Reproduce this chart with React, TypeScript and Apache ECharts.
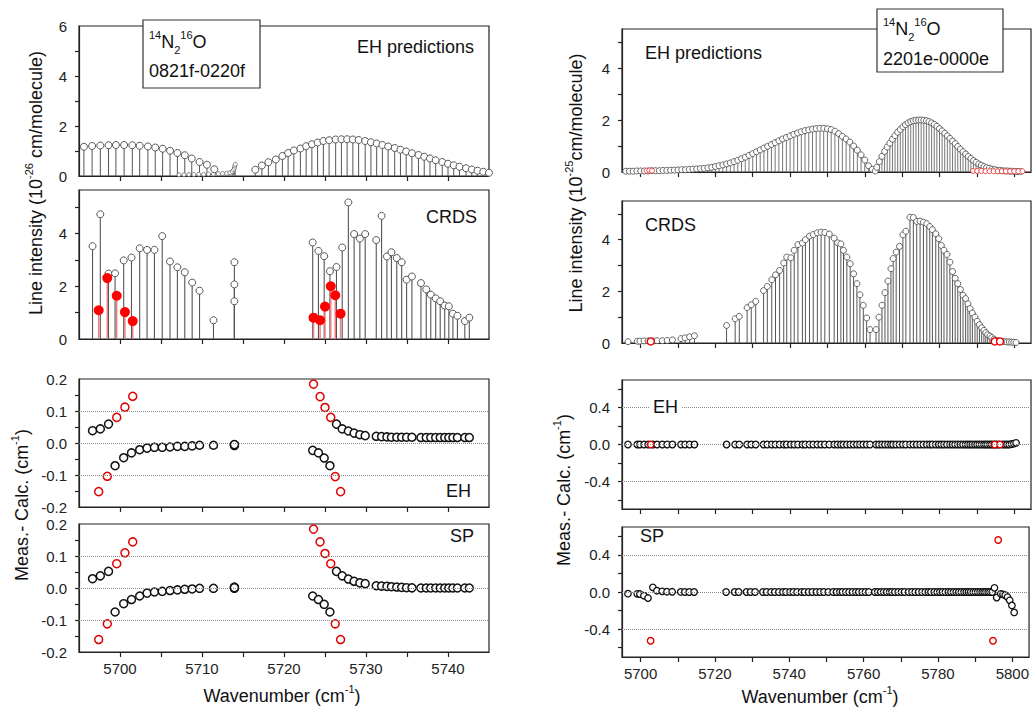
import React, { useEffect, useRef } from 'react';
import * as echarts from 'echarts';

const FONT = '"Liberation Sans", Arial, Helvetica, sans-serif';

// ---------------- LEFT: 0821f-0220f ----------------
const leftPredWn = [5695.6, 5696.6, 5697.6, 5698.6, 5699.5, 5700.5, 5701.5, 5702.4, 5703.4, 5704.3, 5705.2, 5706.1, 5707.0, 5707.9, 5708.75, 5709.7, 5710.6, 5711.5,
  5716.5, 5717.3, 5718.1, 5719.0, 5719.8, 5720.5, 5721.2, 5722.0, 5722.7, 5723.4, 5724.1, 5724.8, 5725.5, 5726.3, 5727.0, 5727.7, 5728.4, 5729.1, 5729.9, 5730.6,
  5731.3, 5732.0, 5732.7, 5733.5, 5734.2, 5734.9, 5735.6, 5736.4, 5737.1, 5737.8, 5738.5, 5739.3, 5740.0, 5740.7, 5741.4, 5742.2, 5742.9, 5743.6, 5744.3, 5745.0];
const leftPredInt = [1.17, 1.20, 1.22, 1.23, 1.24, 1.24, 1.23, 1.21, 1.18, 1.14, 1.09, 1.01, 0.92, 0.83, 0.70, 0.56, 0.45, 0.27,
  0.25, 0.42, 0.55, 0.66, 0.80, 0.92, 1.02, 1.10, 1.19, 1.27, 1.34, 1.40, 1.43, 1.46, 1.47, 1.47, 1.46, 1.44, 1.40, 1.35,
  1.30, 1.24, 1.18, 1.12, 1.05, 0.98, 0.91, 0.84, 0.77, 0.70, 0.63, 0.56, 0.49, 0.43, 0.37, 0.31, 0.26, 0.21, 0.17, 0.13];
const leftLowWn = [5707.2, 5707.8, 5708.4, 5709.0, 5709.6, 5710.2, 5710.8, 5711.4, 5712.0, 5712.5, 5713.0, 5713.4, 5713.7, 5713.85, 5713.95, 5714.0, 5714.05];
const leftLowInt = [0.05, 0.05, 0.06, 0.06, 0.07, 0.07, 0.08, 0.08, 0.09, 0.10, 0.11, 0.13, 0.18, 0.25, 0.32, 0.40, 0.47];

const leftObsWn = [5696.65, 5697.6, 5698.6, 5699.4, 5700.45, 5701.4, 5702.4, 5703.3, 5704.2, 5705.15, 5706.1, 5707.0, 5707.9, 5708.8, 5709.7, 5711.4, 5713.95, 5713.95, 5713.95,
  5723.5, 5724.2, 5724.9, 5725.6, 5726.4, 5727.1, 5727.85, 5728.55, 5729.25, 5729.9, 5731.25, 5731.9, 5732.55, 5733.1, 5733.75, 5734.35, 5734.95, 5735.6, 5736.7, 5737.35,
  5737.9, 5738.5, 5739.05, 5739.6, 5740.1, 5740.6, 5741.15, 5742.05, 5742.6];
const leftObsInt = [3.52, 4.73, 2.48, 2.49, 2.98, 3.09, 3.44, 3.38, 3.38, 3.90, 2.94, 2.72, 2.53, 2.14, 1.83, 0.71, 2.91, 2.07, 1.43,
  3.66, 3.34, 3.14, 2.57, 2.73, 3.47, 5.18, 3.98, 3.81, 3.98, 3.75, 4.67, 3.13, 3.29, 3.07, 2.91, 2.25, 2.37, 2.12, 1.88,
  1.68, 1.54, 1.43, 1.27, 1.24, 0.96, 0.88, 0.68, 0.81];
const leftObsEh = [0.0385, 0.044, 0.059, -0.071, -0.046, -0.031, -0.021, -0.016, -0.0135, -0.0135, -0.0125, -0.0105, -0.0105, -0.009, -0.007, -0.007, -0.006, -0.008, -0.005,
  -0.023, -0.031, -0.047, -0.071, 0.059, 0.044, 0.0375, 0.031, 0.026, 0.023, 0.021, 0.020, 0.019, 0.018, 0.018, 0.018, 0.018, 0.018, 0.017, 0.017,
  0.017, 0.017, 0.017, 0.017, 0.017, 0.017, 0.017, 0.017, 0.017];
const leftObsSp = [0.029, 0.038, 0.052, -0.075, -0.049, -0.036, -0.025, -0.016, -0.0125, -0.0105, -0.008, -0.006, -0.004, -0.003, -0.001, -0.001, 0.003, -0.001, 0.001,
  -0.025, -0.036, -0.051, -0.075, 0.052, 0.038, 0.028, 0.021, 0.016, 0.0136, 0.007, 0.006, 0.005, 0.004, 0.003, 0.002, 0.001, 0.0005, 0, 0,
  0, 0, 0, 0, 0, 0, 0, 0, 0];

const leftRedWn = [5697.4, 5698.45, 5699.6, 5700.6, 5701.55, 5723.6, 5724.4, 5725.0, 5725.7, 5726.25, 5726.9];
const leftRedInt = [1.09, 2.31, 1.64, 1.02, 0.68, 0.81, 0.71, 1.23, 2.00, 1.66, 0.96];
const leftRedEh = [-0.152, -0.104, 0.080, 0.112, 0.146, 0.184, 0.145, 0.111, 0.080, -0.105, -0.152];
const leftRedSp = [-0.161, -0.112, 0.076, 0.110, 0.144, 0.184, 0.144, 0.108, 0.076, -0.112, -0.161];

// ---------------- RIGHT: 2201e-0000e ----------------
const rightPredWn = [5696, 5697, 5698, 5699, 5700, 5701, 5702, 5703, 5704, 5705, 5706, 5707, 5708, 5709, 5710, 5711, 5712, 5713, 5714, 5715,
  5716, 5717, 5718, 5719, 5720, 5721, 5722, 5723, 5724, 5725, 5726, 5727, 5728, 5729, 5730, 5731, 5732, 5733, 5734, 5735,
  5736, 5737, 5738, 5739, 5740, 5741, 5742, 5743, 5744, 5745, 5746, 5747, 5748, 5749, 5750, 5751, 5752, 5753, 5754, 5755,
  5756, 5757, 5758, 5759, 5760, 5761, 5762, 5762.8,
  5763.2, 5763.9, 5764.6, 5765.3, 5766.0, 5766.7, 5767.4, 5768.1, 5768.8, 5769.5, 5770.2, 5770.9, 5771.6, 5772.3, 5773.0, 5773.7, 5774.4, 5775.1, 5775.8, 5776.5,
  5777.2, 5777.9, 5778.6, 5779.3, 5780.0, 5780.7, 5781.4, 5782.1, 5782.8, 5783.5, 5784.2, 5784.9, 5785.6, 5786.3, 5787.0, 5787.7, 5788.4, 5789.1, 5789.8, 5790.5,
  5791.2, 5791.9, 5792.6, 5793.3, 5794.0, 5794.7, 5795.4, 5796.1, 5796.8, 5797.5, 5798.2, 5798.9, 5799.6, 5800.3, 5801.0, 5801.7];
const rightPredInt = [0.03, 0.03, 0.03, 0.04, 0.04, 0.04, 0.04, 0.05, 0.05, 0.05, 0.06, 0.06, 0.07, 0.07, 0.08, 0.09, 0.09, 0.10, 0.11, 0.12,
  0.13, 0.14, 0.16, 0.18, 0.21, 0.24, 0.27, 0.31, 0.35, 0.40, 0.45, 0.51, 0.57, 0.64, 0.71, 0.78, 0.85, 0.92, 0.99, 1.06,
  1.13, 1.20, 1.27, 1.33, 1.39, 1.45, 1.50, 1.55, 1.59, 1.62, 1.65, 1.67, 1.68, 1.68, 1.66, 1.63, 1.57, 1.48, 1.37, 1.27,
  1.15, 1.00, 0.84, 0.66, 0.46, 0.24, 0.10, 0.04,
  0.18, 0.40, 0.60, 0.79, 0.96, 1.11, 1.26, 1.40, 1.53, 1.64, 1.74, 1.82, 1.89, 1.94, 1.97, 1.99, 2.00, 2.00, 1.99, 1.97,
  1.94, 1.89, 1.83, 1.76, 1.67, 1.58, 1.49, 1.39, 1.29, 1.19, 1.09, 0.98, 0.88, 0.78, 0.69, 0.60, 0.52, 0.44, 0.37, 0.31,
  0.26, 0.21, 0.17, 0.14, 0.11, 0.09, 0.07, 0.06, 0.05, 0.04, 0.04, 0.03, 0.03, 0.02, 0.02, 0.02];
const rightPredRedWn = [5701.6, 5702.3, 5703.0, 5789.0, 5790.1, 5791.2, 5792.3, 5793.4, 5794.5, 5795.6, 5796.7, 5797.8, 5798.9, 5800.0, 5801.1, 5802.2];
const rightPredRedInt = [0.05, 0.06, 0.05, 0.04, 0.04, 0.04, 0.03, 0.03, 0.03, 0.03, 0.03, 0.03, 0.03, 0.03, 0.03, 0.03];

const rightObsWn = [5696.6, 5699.1, 5699.8, 5700.9, 5702.0, 5703.3, 5704.4, 5705.8, 5707.1, 5708.5, 5710.8, 5711.9, 5713.1, 5714.4,
  5723.0, 5725.3, 5726.4, 5728.5, 5729.6, 5730.8, 5732.9, 5733.9, 5735.1, 5736.1, 5737.2, 5738.3, 5739.1, 5740.2, 5741.1, 5742.1, 5743.3, 5744.1, 5745.2, 5746.2,
  5747.3, 5748.3, 5749.3, 5750.5, 5751.8, 5752.7, 5753.6, 5754.3, 5755.2, 5756.1, 5757.0, 5757.9, 5758.7, 5759.6, 5760.5, 5761.4,
  5763.0, 5763.8, 5764.6, 5765.4, 5766.2, 5767.0, 5767.6, 5768.4, 5769.3, 5770.2, 5771.0, 5772.1, 5773.0, 5773.9, 5774.8, 5775.7, 5776.6, 5777.4, 5778.1, 5779.0,
  5779.8, 5780.5, 5781.2, 5782.0, 5782.8, 5783.5, 5784.2, 5784.9, 5785.6, 5786.3, 5787.0, 5787.6, 5788.2, 5788.8, 5789.5, 5790.1, 5790.7, 5791.3, 5791.9, 5792.4,
  5792.9, 5793.5, 5794.0, 5794.6, 5795.2, 5795.8, 5796.9, 5797.5, 5798.1, 5798.7, 5799.3, 5799.9, 5800.5];
const rightObsInt = [0.05, 0.07, 0.07, 0.08, 0.08, 0.08, 0.09, 0.09, 0.10, 0.12, 0.17, 0.20, 0.24, 0.28,
  0.68, 0.94, 1.03, 1.37, 1.48, 1.61, 2.03, 2.19, 2.45, 2.64, 2.81, 3.10, 3.33, 3.30, 3.59, 3.81, 3.87, 4.00, 4.14, 4.20,
  4.27, 4.29, 4.28, 4.22, 4.06, 3.88, 3.84, 3.59, 3.33, 3.07, 2.68, 2.30, 1.87, 1.46, 0.97, 0.52,
  0.52, 1.00, 1.46, 1.95, 2.40, 2.88, 3.27, 3.52, 3.74, 4.19, 4.33, 4.87, 4.86, 4.71, 4.72, 4.68, 4.62, 4.51, 4.39, 4.23,
  4.04, 3.78, 3.59, 3.43, 3.13, 2.77, 2.51, 2.30, 2.07, 1.85, 1.72, 1.52, 1.33, 1.16, 1.00, 0.84, 0.71, 0.59, 0.49, 0.40,
  0.32, 0.27, 0.21, 0.15, 0.10, 0.08, 0.06, 0.05, 0.04, 0.04, 0.03, 0.03, 0.02];
const rightObsEh = [0, 0, 0, 0, 0, 0, 0, 0, 0, 0, 0, 0, 0, 0,
  0, 0, 0, 0, 0, 0, 0, 0, 0, 0, 0, 0, 0, 0, 0, 0, 0, 0, 0, 0,
  0, 0, 0, 0, 0, 0, 0, 0, 0, 0, 0, 0, 0, 0, 0, 0,
  0, 0, 0, 0, 0, 0, 0, 0, 0, 0, 0, 0, 0, 0, 0, 0, 0, 0, 0, 0,
  0, 0, 0, 0, 0, 0, 0, 0, 0, 0, 0, 0, 0, 0, 0, 0, 0, 0, 0, 0,
  0, 0, 0, 0, 0, 0, 0, 0, 0, 0, 0.005, 0.01, 0.018];
const rightObsSp = [-0.018, -0.020, -0.022, -0.040, -0.065, 0.050, 0.014, 0.007, 0.003, 0.002, 0.001, 0, 0, 0,
  0, 0, 0, 0, 0, 0, 0, 0, 0, 0, 0, 0, 0, 0, 0, 0, 0, 0, 0, 0,
  0, 0, 0, 0, 0, 0, 0, 0, 0, 0, 0, 0, 0, 0, 0, 0,
  0, 0, 0, 0, 0, 0, 0, 0, 0, 0, 0, 0, 0, 0, 0, 0, 0, 0, 0, 0,
  0, 0, 0, 0, 0, 0, 0, 0, 0, 0, 0, 0, 0, 0, 0, 0, 0, 0, 0, 0,
  0, 0, 0, 0, 0.045, -0.060, -0.020, -0.025, -0.035, -0.055, -0.090, -0.145, -0.220];
const rightRedWn = [5702.7, 5794.8, 5796.2];
const rightRedInt = [0.06, 0.06, 0.06];
const rightRedEh = [0, 0, 0];
const rightRedSp = [-0.525, -0.525, 0.56];

// ticks
const leftXTicks = [5700, 5705, 5710, 5715, 5720, 5725, 5730, 5735, 5740];
const leftXLabels = [5700, 5710, 5720, 5730, 5740];
const rightXTicks = [5700, 5710, 5720, 5730, 5740, 5750, 5760, 5770, 5780, 5790, 5800];
const rightXLabels = [5700, 5720, 5740, 5760, 5780, 5800];

const pairs = (xs: number[], ys: number[]) => xs.map((x, i) => [x, ys[i]]);

const GRIDS = [
  { left: 79, top: 26, width: 410, height: 150 },
  { left: 79, top: 190, width: 410, height: 149 },
  { left: 79, top: 379, width: 410, height: 128 },
  { left: 79, top: 524, width: 410, height: 128 },
  { left: 622, top: 29, width: 409, height: 143 },
  { left: 622, top: 201, width: 409, height: 142 },
  { left: 622, top: 380, width: 409, height: 129 },
  { left: 622, top: 527, width: 409, height: 130 },
];

const AX = '#222';

function xAx(gi: number, right: boolean, bottom: boolean) {
  return {
    type: 'value', gridIndex: gi, min: 5695, max: right ? 5804.5 : 5745,
    axisLine: { show: true, onZero: false, lineStyle: { color: AX, width: 1.2 } },
    axisTick: { show: true, inside: false, length: 5, lineStyle: { color: AX, width: 1.2 }, customValues: right ? rightXTicks : leftXTicks },
    axisLabel: { show: bottom, customValues: right ? rightXLabels : leftXLabels, fontSize: 15, color: AX, fontFamily: FONT, margin: 9,
      formatter: (v: number) => String(Math.round(v)) },
    splitLine: { show: false },
  };
}

function yAx(gi: number, min: number, max: number, ticks: number[], labels: number[], dec: number) {
  return {
    type: 'value', gridIndex: gi, min, max,
    axisLine: { show: true, onZero: false, lineStyle: { color: AX, width: 1.2 } },
    axisTick: { show: true, length: 4, lineStyle: { color: AX, width: 1.2 }, customValues: ticks },
    axisLabel: { show: true, customValues: labels, fontSize: 15, color: AX, fontFamily: FONT, margin: 12,
      formatter: (v: number) => (dec > 0 ? v.toFixed(dec) : String(Math.round(v))) },
    splitLine: { show: false },
  };
}

function stems(i: number, data: number[][], color: string, width = 1) {
  return {
    type: 'custom', xAxisIndex: i, yAxisIndex: i, data, silent: true, z: 2,
    encode: { x: 0, y: 1 },
    renderItem: (_p: any, api: any) => {
      const x = api.value(0);
      const y = api.value(1);
      const a = api.coord([x, 0]);
      const b = api.coord([x, y]);
      return { type: 'line', shape: { x1: a[0], y1: a[1], x2: b[0], y2: b[1] }, style: { stroke: color, lineWidth: width } };
    },
  };
}

function dots(i: number, data: number[][], size: number, fill: string, border: string, bw: number, extra: any = {}) {
  return {
    type: 'scatter', xAxisIndex: i, yAxisIndex: i, data, symbol: 'circle', symbolSize: size, silent: true, z: 3,
    itemStyle: { color: fill, borderColor: border, borderWidth: bw, opacity: 1 },
    ...extra,
  };
}

function guide(vals: number[]) {
  return {
    markLine: {
      silent: true, symbol: 'none', label: { show: false }, animation: false,
      lineStyle: { type: 'dotted', color: '#888', width: 1 },
      data: vals.map((v) => ({ yAxis: v })),
    },
  };
}

function rich(fs: number) {
  const s = Math.round(fs * 0.6);
  return {
    n: { fontSize: fs, fontFamily: FONT, fill: '#111', color: '#111', lineHeight: fs + 8 },
    sup: { fontSize: s, fontFamily: FONT, fill: '#111', color: '#111', lineHeight: s + 1, verticalAlign: 'top' },
    sub: { fontSize: s, fontFamily: FONT, fill: '#111', color: '#111', lineHeight: s + 1, verticalAlign: 'bottom' },
  };
}

function label(x: number, y: number, text: string, fs: number, align = 'left', rot = 0, extra: any = {}) {
  return {
    type: 'text', x, y, z: 100, rotation: rot,
    style: {
      text, rich: rich(fs), fontSize: fs, fontFamily: FONT, fill: '#111',
      align, textAlign: align, verticalAlign: 'middle', textVerticalAlign: 'middle', ...extra,
    },
  };
}

export default function App() {
  const ref = useRef<HTMLDivElement>(null);
  useEffect(() => {
    if (!ref.current) return;
    const chart = echarts.init(ref.current, undefined, { renderer: 'svg' });
    const GR = '#555';
    const option: any = {
      animation: false,
      backgroundColor: '#fff',
      grid: GRIDS.map((g) => ({ ...g, show: true, borderColor: AX, borderWidth: 1.2, backgroundColor: 'transparent' })),
      xAxis: [
        xAx(0, false, false), xAx(1, false, false), xAx(2, false, false), xAx(3, false, true),
        xAx(4, true, false), xAx(5, true, false), xAx(6, true, false), xAx(7, true, true),
      ],
      yAxis: [
        yAx(0, 0, 6, [1, 2, 3, 4, 5], [0, 2, 4, 6], 0),
        yAx(1, 0, 5.65, [1, 2, 3, 4, 5], [0, 2, 4], 0),
        yAx(2, -0.2, 0.2, [-0.15, -0.1, -0.05, 0, 0.05, 0.1, 0.15], [-0.2, -0.1, 0, 0.1, 0.2], 1),
        yAx(3, -0.2, 0.2, [-0.15, -0.1, -0.05, 0, 0.05, 0.1, 0.15], [-0.2, -0.1, 0, 0.1, 0.2], 1),
        yAx(4, 0, 5.5, [1, 2, 3, 4, 5], [0, 2, 4], 0),
        yAx(5, 0, 5.5, [1, 2, 3, 4, 5], [0, 2, 4], 0),
        yAx(6, -0.7, 0.7, [-0.6, -0.4, -0.2, 0, 0.2, 0.4, 0.6], [-0.4, 0, 0.4], 1),
        yAx(7, -0.7, 0.7, [-0.6, -0.4, -0.2, 0, 0.2, 0.4, 0.6], [-0.4, 0, 0.4], 1),
      ],
      series: [
        // left top: EH predictions
        stems(0, pairs(leftLowWn, leftLowInt), '#777', 1),
        stems(0, pairs(leftPredWn, leftPredInt), GR, 1),
        dots(0, pairs(leftLowWn, leftLowInt), 4, '#fff', '#666', 0.8),
        dots(0, pairs(leftPredWn, leftPredInt), 7, '#fff', '#555', 1),
        // left CRDS
        stems(1, pairs(leftObsWn, leftObsInt), GR, 1.1),
        stems(1, pairs(leftRedWn, leftRedInt), '#f08080', 1.5),
        dots(1, pairs(leftObsWn, leftObsInt), 7, '#fff', '#555', 1),
        dots(1, pairs(leftRedWn, leftRedInt), 10, '#ff0000', '#ff0000', 0),
        // left EH residuals
        dots(2, pairs(leftObsWn, leftObsEh), 8, '#fff', '#111', 1.5, guide([-0.1, 0, 0.1])),
        dots(2, pairs(leftRedWn, leftRedEh), 8, '#fff', '#e00000', 1.5),
        // left SP residuals
        dots(3, pairs(leftObsWn, leftObsSp), 8, '#fff', '#111', 1.5, guide([-0.1, 0, 0.1])),
        dots(3, pairs(leftRedWn, leftRedSp), 8, '#fff', '#e00000', 1.5),
        // right top: EH predictions
        stems(4, pairs(rightPredWn, rightPredInt), '#666', 0.9),
        stems(4, pairs(rightPredRedWn, rightPredRedInt), '#f08080', 1),
        dots(4, pairs(rightPredWn, rightPredInt), 6, '#fff', '#555', 0.9),
        dots(4, pairs(rightPredRedWn, rightPredRedInt), 5, '#fff', '#ee3333', 0.9),
        // right CRDS
        stems(5, pairs(rightObsWn, rightObsInt), '#555', 1),
        dots(5, pairs(rightObsWn, rightObsInt), 6, '#fff', '#555', 0.9),
        dots(5, pairs(rightRedWn, rightRedInt), 7, '#fff', '#ee0000', 1.4),
        // right EH residuals
        dots(6, pairs(rightObsWn, rightObsEh), 6.5, '#fff', '#111', 1.3, guide([-0.4, 0, 0.4])),
        dots(6, pairs(rightRedWn, rightRedEh), 6.5, '#fff', '#e00000', 1.4),
        // right SP residuals
        dots(7, pairs(rightObsWn, rightObsSp), 6.5, '#fff', '#111', 1.3, guide([-0.4, 0, 0.4])),
        dots(7, pairs(rightRedWn, rightRedSp), 6.5, '#fff', '#e00000', 1.4),
      ],
      graphic: [
        // inset boxes
        { type: 'rect', z: 99, shape: { x: 143, y: 20, width: 117, height: 68 }, style: { fill: '#fff', stroke: '#333', lineWidth: 1.2 } },
        label(149, 42, '{sup|14}{n|N}{sub|2}{sup|16}{n|O}', 18),
        label(149, 71, '{n|0821f-0220f}', 18),
        { type: 'rect', z: 99, shape: { x: 877, y: 9, width: 126, height: 63 }, style: { fill: '#fff', stroke: '#333', lineWidth: 1.2 } },
        label(883, 29, '{sup|14}{n|N}{sub|2}{sup|16}{n|O}', 18),
        label(883, 59, '{n|2201e-0000e}', 18),
        // panel labels left
        label(474, 47, '{n|EH predictions}', 18, 'right'),
        label(477, 217, '{n|CRDS}', 18, 'right'),
        label(471, 491, '{n|EH}', 18, 'right'),
        label(474, 536, '{n|SP}', 18, 'right'),
        // panel labels right
        label(645, 53, '{n|EH predictions}', 18, 'left'),
        label(645, 225, '{n|CRDS}', 18, 'left'),
        label(650, 407, '{n|EH}', 18, 'left', 0, { backgroundColor: '#fff', padding: [0, 3, 0, 3] }),
        label(640, 536, '{n|SP}', 18, 'left'),
        // axis titles
        label(36, 183, '{n|Line intensity (10}{sup|-26}{n| cm/molecule)}', 18, 'center', Math.PI / 2),
        label(22, 505, '{n|Meas.- Calc. (cm}{sup|-1}{n|)}', 18, 'center', Math.PI / 2),
        label(576, 183, '{n|Line intensity (10}{sup|-25}{n|cm/molecule)}', 18, 'center', Math.PI / 2),
        label(564, 490, '{n|Meas.- Calc. (cm}{sup|-1}{n|)}', 18, 'center', Math.PI / 2),
        label(282, 696, '{n|Wavenumber (cm}{sup|-1}{n|)}', 18, 'center'),
        label(820, 697, '{n|Wavenumber (cm}{sup|-1}{n|)}', 18, 'center'),
      ],
    };
    chart.setOption(option);
    return () => chart.dispose();
  }, []);
  return <div ref={ref} style={{ position: 'absolute', left: 0, top: 0, width: 1032, height: 709, background: '#fff' }} />;
}
